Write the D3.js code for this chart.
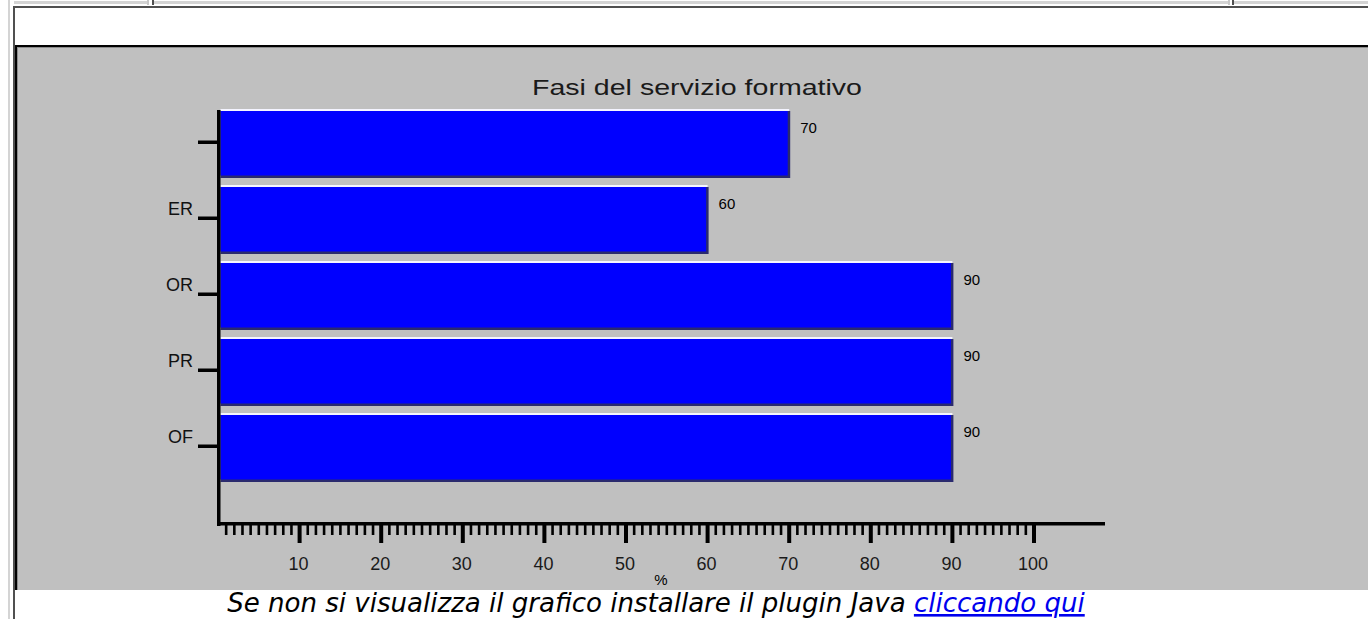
<!DOCTYPE html>
<html>
<head>
<meta charset="utf-8">
<script src="https://cdn.jsdelivr.net/npm/d3@7"></script>
<style>
  html, body { margin: 0; padding: 0; background: #fff; overflow: hidden; }
  svg { display: block; }
</style>
</head>
<body>
<svg id="c" width="1368" height="619"></svg>
<script>
// ---- data ----
const title = "Fasi del servizio formativo";
const categories = ["", "ER", "OR", "PR", "OF"];
const values = [70, 60, 90, 90, 90];
const xTicks = [10, 20, 30, 40, 50, 60, 70, 80, 90, 100];
const xAxisLabel = "%";
const captionText = "Se non si visualizza il grafico installare il plugin Java ";
const captionLink = "cliccando qui";

const svg = d3.select("#c");

// ---- page frame ----
svg.append("rect").attr("x", 0).attr("y", 0).attr("width", 1368).attr("height", 619).attr("fill", "#fff");
svg.append("rect").attr("x", 8).attr("y", 0).attr("width", 2).attr("height", 619).attr("fill", "#d4d4d4");
[[14, 148], [153, 1228], [1234, 1368]].forEach(([a, b]) => {
  svg.append("rect").attr("x", a).attr("y", 1).attr("width", b - a).attr("height", 3).attr("fill", "#d4d4d4");
});
[147, 1228].forEach(xx => svg.append("rect").attr("x", xx).attr("y", 0).attr("width", 2).attr("height", 5).attr("fill", "#c8c8c8"));
[152, 1232].forEach(xx => svg.append("rect").attr("x", xx).attr("y", 0).attr("width", 2).attr("height", 5).attr("fill", "#505050"));
svg.append("rect").attr("x", 13).attr("y", 6).attr("width", 1355).attr("height", 2).attr("fill", "#505050");
svg.append("rect").attr("x", 13).attr("y", 6).attr("width", 2).attr("height", 613).attr("fill", "#505050");

// ---- chart panel ----
svg.append("rect").attr("x", 15).attr("y", 45).attr("width", 1353).attr("height", 545).attr("fill", "#000");
svg.append("rect").attr("x", 17).attr("y", 47).attr("width", 1351).attr("height", 543).attr("fill", "#8c8c8c");
svg.append("rect").attr("x", 18).attr("y", 48).attr("width", 1350).attr("height", 542).attr("fill", "#c0c0c0");

// title
svg.append("text").text(title)
  .attr("x", 697).attr("y", 95).attr("text-anchor", "middle")
  .attr("font-family", "Liberation Sans, Arial, sans-serif").attr("font-size", 22)
  .attr("fill", "#1a1a1a")
  .attr("textLength", 330).attr("lengthAdjust", "spacingAndGlyphs");

// scales
const x = d3.scaleLinear().domain([0, 100]).range([218, 1034]);
const y = d3.scaleBand().domain(categories).range([106, 486])
  .paddingInner(10 / 76).paddingOuter(5 / 76);

// bars
const bars = svg.append("g");
categories.forEach((c, i) => {
  const x0 = x(0) + 2.5, x1 = x(values[i]);
  const y0 = y(c), h = y.bandwidth();
  bars.append("rect").attr("x", x0).attr("y", y0 - 2).attr("width", x1 - x0).attr("height", h + 2).attr("fill", "#f4f4ff");
  bars.append("rect").attr("x", x0).attr("y", y0).attr("width", x1 - x0 + 1).attr("height", h + 1).attr("fill", "#2a2a6e");
  bars.append("rect").attr("x", x0).attr("y", y0).attr("width", x1 - x0 - 1.5).attr("height", h - 1.5).attr("fill", "#0000ff");
  bars.append("text").text(values[i])
    .attr("x", x1 + 11).attr("y", y0 + 22)
    .attr("font-family", "Liberation Sans, Arial, sans-serif").attr("font-size", 15)
    .attr("fill", "#000");
});

// y axis
svg.append("rect").attr("x", 217).attr("y", 110).attr("width", 3.5).attr("height", 416).attr("fill", "#000");
categories.forEach(c => {
  const cy = y(c) + y.bandwidth() / 2 - 2;
  svg.append("rect").attr("x", 198).attr("y", cy - 1.5).attr("width", 20).attr("height", 3.5).attr("fill", "#000");
  if (c) svg.append("text").text(c).attr("x", 193).attr("y", cy - 3).attr("text-anchor", "end")
    .attr("font-family", "Liberation Sans, Arial, sans-serif").attr("font-size", 18).attr("fill", "#111");
});

// x axis
svg.append("rect").attr("x", 217).attr("y", 522).attr("width", 888).attr("height", 3.5).attr("fill", "#000");
d3.range(1, 101).forEach(v => {
  const major = v % 10 === 0;
  svg.append("rect")
    .attr("x", x(v) - (major ? 2 : 1.3)).attr("y", 525)
    .attr("width", major ? 4 : 2.6).attr("height", major ? 18 : 10)
    .attr("fill", "#000");
});
xTicks.forEach(v => {
  svg.append("text").text(v).attr("x", x(v) - 1).attr("y", 570).attr("text-anchor", "middle")
    .attr("font-family", "Liberation Sans, Arial, sans-serif").attr("font-size", 18).attr("fill", "#1a1a1a");
});
svg.append("text").text(xAxisLabel).attr("x", 661).attr("y", 585).attr("text-anchor", "middle")
  .attr("font-family", "Liberation Sans, Arial, sans-serif").attr("font-size", 15).attr("fill", "#000");

// caption
const cap = svg.append("text").attr("x", 0).attr("y", 612)
  .attr("font-family", "DejaVu Sans, Verdana, sans-serif").attr("font-style", "italic").attr("font-size", 20);
cap.append("tspan").text(captionText).attr("fill", "#000");
cap.append("tspan").text(captionLink).attr("fill", "#0000ee").attr("text-decoration", "underline");
const w = cap.node().getComputedTextLength();
cap.attr("font-size", 20 * 858 / w);
const w2 = cap.node().getComputedTextLength();
cap.attr("x", 227 + (858 - w2) / 2);
</script>
</body>
</html>
